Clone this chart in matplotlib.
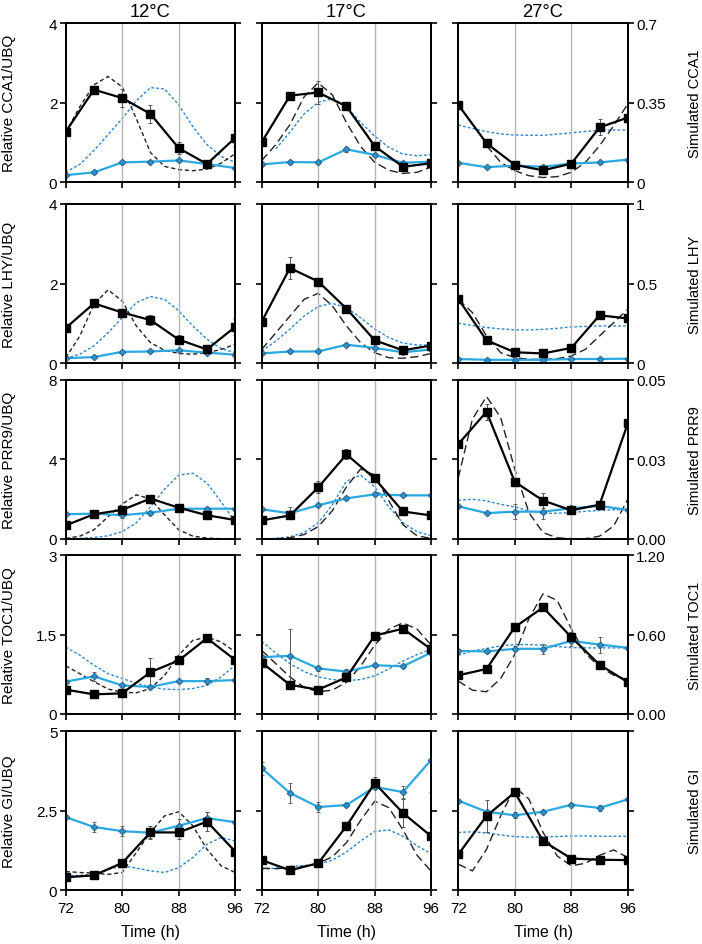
import numpy as np
import matplotlib
matplotlib.use("Agg")
import matplotlib.pyplot as plt

plt.rcParams['font.family'] = ['Liberation Sans', 'DejaVu Sans']
plt.rcParams['font.size'] = 11

nan = np.nan

temps = ['12°C', '17°C', '27°C']
t_obs = [72, 76, 80, 84, 88, 92, 96]
t_sim = [72, 74, 76, 78, 80, 82, 84, 86, 88, 90, 92, 94, 96]

# ---- CCA1 ----
cca1_wt = [[1.27, 2.33, 2.12, 1.72, 0.86, 0.46, 1.12],
           [1.01, 2.18, 2.26, 1.91, 0.91, 0.39, 0.48],
           [1.95, 0.98, 0.44, 0.30, 0.47, 1.38, 1.63]]
cca1_wt_err = [[0.05, 0.08, 0.22, 0.23, 0.15, 0.05, 0.2],
               [0.05, 0.05, 0.3, 0.05, 0.05, 0.05, 0.05],
               [0.05, 0.08, 0.05, 0.05, 0.05, 0.2, 0.08]]
cca1_mut = [[0.18, 0.25, 0.50, 0.52, 0.55, 0.46, 0.36],
            [0.45, 0.51, 0.50, 0.83, 0.69, 0.49, 0.52],
            [0.49, 0.38, 0.42, 0.39, 0.47, 0.50, 0.57]]
cca1_mut_err = [[0.03, 0.03, 0.04, 0.04, 0.04, 0.04, 0.03],
                [0.03, 0.05, 0.03, 0.06, 0.04, 0.04, 0.04],
                [0.03, 0.03, 0.03, 0.03, 0.03, 0.03, 0.03]]
cca1_sim_wt = [[0.219, 0.333, 0.429, 0.466, 0.42, 0.28, 0.131, 0.07, 0.056, 0.051, 0.058, 0.084, 0.126],
               [0.096, 0.166, 0.254, 0.376, 0.438, 0.385, 0.263, 0.158, 0.088, 0.053, 0.039, 0.044, 0.067],
               [nan, nan, 0.161, 0.088, 0.051, 0.029, 0.021, 0.025, 0.044, 0.088, 0.161, 0.249, 0.345]]
cca1_sim_mut = [[0.044, 0.079, 0.14, 0.21, 0.28, 0.359, 0.417, 0.411, 0.341, 0.245, 0.166, 0.114, 0.0875],
                [nan, 0.147, 0.221, 0.301, 0.352, 0.368, 0.331, 0.264, 0.203, 0.154, 0.124, 0.117, 0.121],
                [0.252, 0.237, 0.223, 0.213, 0.208, 0.207, 0.207, 0.212, 0.218, 0.224, 0.229, 0.23, 0.23]]

# ---- LHY ----
lhy_wt = [[0.88, 1.50, 1.27, 1.08, 0.59, 0.34, 0.91],
          [1.04, 2.39, 2.05, 1.37, 0.57, 0.32, 0.44],
          [1.61, 0.57, 0.27, 0.24, 0.38, 1.20, 1.12]]
lhy_wt_err = [[0.05, 0.05, 0.05, 0.12, 0.12, 0.05, 0.2],
              [0.05, 0.28, 0.08, 0.05, 0.05, 0.05, 0.05],
              [0.05, 0.08, 0.04, 0.04, 0.04, 0.1, 0.05]]
lhy_mut = [[0.12, 0.15, 0.28, 0.29, 0.32, 0.26, 0.21],
           [0.24, 0.29, 0.29, 0.46, 0.38, 0.27, 0.34],
           [0.10, 0.08, 0.08, 0.08, 0.10, 0.10, 0.11]]
lhy_mut_err = [[0.02, 0.02, 0.03, 0.03, 0.03, 0.03, 0.02],
               [0.02, 0.03, 0.03, 0.04, 0.03, 0.03, 0.03],
               [0.01, 0.01, 0.01, 0.01, 0.01, 0.01, 0.01]]
lhy_sim_wt = [[0.033, 0.17, 0.37, 0.46, 0.39, 0.233, 0.128, 0.08, 0.06, 0.055, 0.065, 0.085, 0.118],
              [0.085, 0.19, 0.295, 0.4, 0.438, 0.36, 0.233, 0.128, 0.065, 0.033, 0.03, 0.04, 0.06],
              [0.401, 0.317, 0.17, 0.065, 0.034, 0.023, 0.023, 0.027, 0.044, 0.086, 0.17, 0.254, 0.338]]
lhy_sim_mut = [[0.03, 0.055, 0.108, 0.19, 0.285, 0.38, 0.418, 0.4, 0.328, 0.233, 0.15, 0.09, 0.065],
               [0.075, 0.138, 0.213, 0.295, 0.355, 0.375, 0.348, 0.285, 0.213, 0.16, 0.125, 0.113, 0.113],
               [0.25, 0.236, 0.223, 0.215, 0.208, 0.208, 0.212, 0.218, 0.227, 0.23, 0.233, 0.233, 0.233]]

# ---- PRR9 ----
prr9_wt = [[0.67, 1.23, 1.45, 2.02, 1.56, 1.18, 0.94],
           [0.92, 1.17, 2.58, 4.24, 3.03, 1.37, 1.17],
           [4.76, 6.39, 2.86, 1.92, 1.43, 1.71, 5.80]]
prr9_wt_err = [[0.1, 0.2, 0.2, 0.2, 0.2, 0.2, 0.1],
               [0.1, 0.2, 0.3, 0.25, 0.2, 0.2, 0.1],
               [0.2, 0.4, 0.2, 0.4, 0.1, 0.1, 0.1]]
prr9_mut = [[1.23, 1.26, 1.18, 1.31, 1.51, 1.51, 1.51],
            [1.48, 1.28, 1.68, 2.03, 2.23, 2.18, 2.18],
            [1.63, 1.29, 1.36, 1.36, 1.53, 1.65, 1.45]]
prr9_mut_err = [[0.05, 0.2, 0.15, 0.1, 0.1, 0.05, 0.05],
                [0.05, 0.3, 0.1, 0.1, 0.1, 0.05, 0.05],
                [0.05, 0.05, 0.38, 0.35, 0.1, 0.1, 0.05]]
prr9_sim_wt = [[0.0001, 0.0008, 0.0028, 0.0069, 0.0109, 0.0138, 0.0125, 0.0075, 0.0028, 0.0008, 0.0002, 0, 0],
               [0, 0, 0.0003, 0.0013, 0.0038, 0.0088, 0.0163, 0.0219, 0.02, 0.0119, 0.0044, 0.0009, 0.0001],
               [0.0192, 0.0376, 0.0447, 0.0381, 0.0218, 0.0082, 0.0019, 0.0003, 0, 0, 0.0008, 0.004, 0.0124]]
prr9_sim_mut = [[0, 0.0001, 0.0004, 0.0009, 0.0022, 0.005, 0.01, 0.0156, 0.02, 0.0206, 0.0175, 0.0116, 0.0053],
                [0, 0.0001, 0.0006, 0.0019, 0.005, 0.0106, 0.0181, 0.02, 0.0163, 0.01, 0.005, 0.0022, 0.0009],
                [0.0121, 0.0124, 0.0119, 0.0108, 0.01, 0.0087, 0.008, 0.008, 0.0082, 0.0086, 0.0089, 0.0091, 0.0092]]

# ---- TOC1 ----
toc1_wt = [[0.46, 0.37, 0.39, 0.79, 1.01, 1.43, 1.02],
           [0.97, 0.55, 0.46, 0.69, 1.48, 1.61, 1.22],
           [0.73, 0.85, 1.64, 2.01, 1.45, 0.93, 0.60]]
toc1_wt_err = [[0.05, 0.03, 0.03, 0.26, 0.05, 0.04, 0.05],
               [0.05, 0.08, 0.03, 0.05, 0.05, 0.05, 0.05],
               [0.04, 0.05, 0.05, 0.05, 0.1, 0.05, 0.04]]
toc1_mut = [[0.61, 0.71, 0.54, 0.51, 0.62, 0.62, 0.64],
            [1.07, 1.10, 0.86, 0.80, 0.92, 0.90, 1.16],
            [1.19, 1.18, 1.23, 1.23, 1.38, 1.31, 1.25]]
toc1_mut_err = [[0.03, 0.08, 0.03, 0.03, 0.03, 0.05, 0.03],
                [0.03, 0.5, 0.04, 0.04, 0.04, 0.04, 0.04],
                [0.03, 0.03, 0.05, 0.1, 0.1, 0.15, 0.04]]
toc1_sim_wt = [[0.364, 0.304, 0.244, 0.188, 0.164, 0.16, 0.192, 0.292, 0.444, 0.556, 0.58, 0.544, 0.468],
               [0.48, 0.38, 0.28, 0.2, 0.168, 0.18, 0.24, 0.36, 0.52, 0.64, 0.688, 0.64, 0.52],
               [0.248, 0.18, 0.168, 0.268, 0.45, 0.72, 0.907, 0.857, 0.644, 0.456, 0.356, 0.293, 0.256]]
toc1_sim_mut = [[0.504, 0.444, 0.368, 0.304, 0.268, 0.232, 0.204, 0.188, 0.184, 0.192, 0.216, 0.28, 0.368],
                [0.548, 0.46, 0.38, 0.32, 0.28, 0.26, 0.252, 0.26, 0.288, 0.34, 0.4, 0.448, 0.488],
                [0.443, 0.476, 0.494, 0.514, 0.524, 0.524, 0.519, 0.509, 0.501, 0.499, 0.499, 0.499, 0.499]]

# ---- GI ----
gi_wt = [[0.41, 0.47, 0.86, 1.82, 1.82, 2.16, 1.22],
         [0.95, 0.63, 0.85, 2.02, 3.37, 2.43, 1.70],
         [1.13, 2.34, 3.08, 1.55, 1.00, 0.96, 0.95]]
gi_wt_err = [[0.04, 0.04, 0.06, 0.2, 0.2, 0.3, 0.05],
             [0.05, 0.05, 0.05, 0.05, 0.2, 0.45, 0.3],
             [0.05, 0.5, 0.05, 0.05, 0.05, 0.05, 0.05]]
gi_mut = [[2.30, 1.99, 1.86, 1.81, 2.03, 2.27, 2.14],
          [3.84, 3.06, 2.62, 2.68, 3.25, 3.09, 4.10],
          [2.82, 2.47, 2.36, 2.47, 2.69, 2.59, 2.86]]
gi_mut_err = [[0.04, 0.15, 0.15, 0.15, 0.2, 0.2, 0.04],
              [0.2, 0.3, 0.15, 0.05, 0.05, 0.2, 1.0],
              [0.05, 0.05, 0.1, 0.05, 0.05, 0.1, 0.05]]
gi_sim_wt = [[0.59, 0.56, 0.54, 0.5, 0.56, 1.19, 1.82, 2.34, 2.47, 2.03, 1.29, 0.77, 0.56],
             [0.7, 0.68, 0.7, 0.75, 0.85, 1.05, 1.5, 2.2, 2.8, 2.6, 1.9, 1.1, 0.6],
             [0.82, 0.61, 1.29, 2.34, 3.24, 2.87, 1.82, 1.08, 0.77, 0.85, 1.1, 1.27, 1.03]]
gi_sim_mut = [[0.45, 0.47, 0.5, 0.65, 0.77, 0.7, 0.61, 0.56, 0.71, 1.03, 1.45, 1.66, 1.55],
              [0.65, 0.7, 0.75, 0.78, 0.82, 0.95, 1.2, 1.55, 1.85, 1.9, 1.7, 1.4, 1.15],
              [1.82, 1.84, 1.8, 1.74, 1.69, 1.67, 1.68, 1.69, 1.71, 1.71, 1.7, 1.7, 1.7]]

genes = ['CCA1', 'LHY', 'PRR9', 'TOC1', 'GI']
left_max = [4, 4, 8, 3, 5]
left_ticklabels = [['0', '2', '4'], ['0', '2', '4'], ['0', '4', '8'],
                   ['0', '1.5', '3'], ['0', '2.5', '5']]
right_max = [0.7, 1.0, 0.05, 1.2, 5]
right_ticklabels = [['0', '0.35', '0.7'], ['0', '0.5', '1'], ['0.00', '0.03', '0.05'],
                    ['0.00', '0.60', '1.20'], ['', '', '']]

obs_wt = [cca1_wt, lhy_wt, prr9_wt, toc1_wt, gi_wt]
obs_wt_err = [cca1_wt_err, lhy_wt_err, prr9_wt_err, toc1_wt_err, gi_wt_err]
obs_mut = [cca1_mut, lhy_mut, prr9_mut, toc1_mut, gi_mut]
obs_mut_err = [cca1_mut_err, lhy_mut_err, prr9_mut_err, toc1_mut_err, gi_mut_err]
sim_wt = [cca1_sim_wt, lhy_sim_wt, prr9_sim_wt, toc1_sim_wt, gi_sim_wt]
sim_mut = [cca1_sim_mut, lhy_sim_mut, prr9_sim_mut, toc1_sim_mut, gi_sim_mut]

blue = '#29a9e0'
blue_edge = '#1b5f8c'
blue_dash = '#2f86c9'

W, H = 702, 945
fig = plt.figure(figsize=(W / 100, H / 100), dpi=100)

col_left = [65.7, 261.7, 458.3]
row_top = [24.3, 205.0, 380.7, 556.0, 732.3]
pw, ph = 169.5, 159.0

for r, gene in enumerate(genes):
    for c in range(3):
        ax = fig.add_axes([col_left[c] / W, 1 - (row_top[r] + ph) / H, pw / W, ph / H])
        ax2 = ax.twinx()
        ax.set_zorder(ax2.get_zorder() + 1)
        ax.patch.set_visible(False)

        for xv in (80, 88):
            ax.axvline(xv, color='#b5b5b5', lw=1.0, zorder=0)

        # simulations on the right axis
        dash_k = (3, 2) if c == 0 else (6, 3)
        ax2.plot(t_sim, sim_mut[r][c], color=blue_dash, lw=1.0, dashes=(2, 1.5))
        ax2.plot(t_sim, sim_wt[r][c], color='#222222', lw=1.0, dashes=dash_k)

        # measurements on the left axis
        ax.errorbar(t_obs, obs_mut[r][c], yerr=obs_mut_err[r][c], color=blue, lw=1.6,
                    marker='D', ms=3.5, mfc='#2f8fca', mec=blue_edge, mew=0.6,
                    ecolor='#555555', elinewidth=0.7, capsize=1.5, capthick=0.7)
        ax.errorbar(t_obs, obs_wt[r][c], yerr=obs_wt_err[r][c], color='black', lw=1.6,
                    marker='s', ms=5.5, ecolor='#555555', elinewidth=0.7, capsize=1.5,
                    capthick=0.7)

        ax.set_xlim(72, 96)
        ax.set_ylim(0, left_max[r])
        ax2.set_ylim(0, right_max[r])
        ax.set_xticks([72, 80, 88, 96])
        ax.set_yticks([0, left_max[r] / 2, left_max[r]])
        ax2.set_yticks([0, right_max[r] / 2, right_max[r]])

        for a in (ax, ax2):
            for s in a.spines.values():
                s.set_linewidth(1.3)
            a.tick_params(direction='out', length=4, width=1.2, pad=2)
        ax.tick_params(axis='x', pad=4)

        if c == 0:
            ax.set_yticklabels(left_ticklabels[r])
            ax.set_ylabel('Relative %s/UBQ' % gene, fontsize=11)
            ax.yaxis.set_label_coords(-0.296, 0.5)
        else:
            ax.set_yticklabels([])
        if c == 2:
            ax2.set_yticklabels(right_ticklabels[r])
            ax2.set_ylabel('Simulated %s' % gene, fontsize=10.5)
            ax2.yaxis.set_label_coords(1.355, 0.5)
        else:
            ax2.set_yticklabels([])
        if r == 4:
            ax.set_xticklabels(['72', '80', '88', '96'])
            ax.set_xlabel('Time (h)', labelpad=6, fontsize=11.5)
        else:
            ax.set_xticklabels([])
        if r == 0:
            ax.set_title(temps[c], pad=5)

fig.savefig('out.png', dpi=100)
